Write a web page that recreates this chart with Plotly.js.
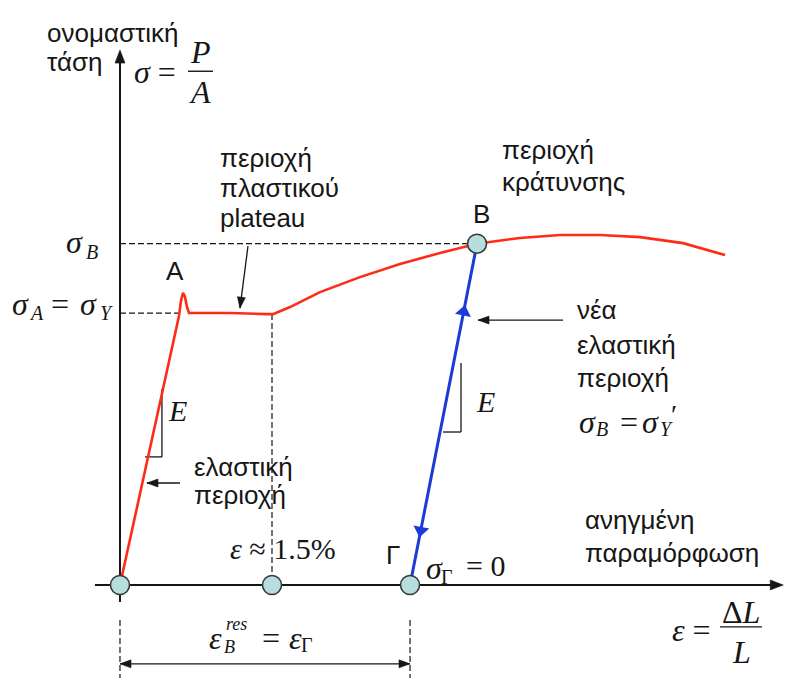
<!DOCTYPE html>
<html>
<head>
<meta charset="utf-8">
<script src="https://cdn.plot.ly/plotly-3.0.1.min.js"></script>
<style>
  html, body { margin: 0; padding: 0; background: #ffffff; }
  #chart { width: 786px; height: 678px; }
</style>
</head>
<body>
<div id="chart"></div>
<script>
// Engineering stress–strain curve of mild steel (strain in %, stress normalised by σY)

// loading curve: elastic line, upper yield point A, plastic plateau, hardening up to and past B
const loadStrain = [0, 0.582, 0.602, 0.622, 0.641, 0.661, 0.681, 1.086, 1.451, 1.510, 1.678, 1.974,
                    2.368, 2.763, 3.158, 3.523, 3.947, 4.342, 4.737, 5.132, 5.556, 5.971];
const loadStress = [0, 0.989, 1.045, 1.074, 1.060, 1.022, 1.0, 1.0, 0.996, 0.996, 1.022, 1.077,
                    1.132, 1.180, 1.221, 1.255, 1.276, 1.287, 1.287, 1.279, 1.257, 1.213];

// unloading from B back to Γ (σ = 0)
const unloadStrain = [3.523, 2.862];
const unloadStress = [1.255, 0];

// marked states: origin, end of plateau (ε ≈ 1.5%), Γ and B
const nodeStrain = [0, 1.5, 2.862, 3.523];
const nodeStress = [0, 0, 0, 1.255];

const sigmaY = 1.0;
const sigmaB = 1.255;
const epsPlateauEnd = 1.5;
const epsGamma = 2.862;
const epsB = 3.523;

const X_RANGE = [-1.184, 6.572];
const Y_RANGE = [-0.342, 2.151];
const W = 786, H = 678;

const RED = '#ff2b17';
const BLUE = '#1a3bd6';
const INK = '#161616';
const SANS = 'Liberation Sans, Arial, sans-serif';
const SERIF = 'Liberation Serif, Times New Roman, serif';

// screen pixels per data unit, for arrowheads and marker angles
const PXS = W / (X_RANGE[1] - X_RANGE[0]);
const PYS = H / (Y_RANGE[1] - Y_RANGE[0]);
const unloadAngle = Math.atan(((epsB - epsGamma) * PXS) / (sigmaB * PYS)) * 180 / Math.PI;

// direction arrows along the unloading / reloading line
const upFrac = 0.80, downFrac = 0.16;
const arrowStrain = [epsGamma + (epsB - epsGamma) * upFrac, epsGamma + (epsB - epsGamma) * downFrac];
const arrowStress = [sigmaB * upFrac, sigmaB * downFrac];

const traces = [
  { x: loadStrain, y: loadStress, mode: 'lines', line: { color: RED, width: 2.6 }, hoverinfo: 'skip' },
  { x: unloadStrain, y: unloadStress, mode: 'lines', line: { color: BLUE, width: 3 }, hoverinfo: 'skip' },
  { x: arrowStrain, y: arrowStress, mode: 'markers', hoverinfo: 'skip',
    marker: { symbol: ['triangle-up', 'triangle-down'], angle: unloadAngle, size: 14, color: BLUE } },
  { x: nodeStrain, y: nodeStress, mode: 'markers', hoverinfo: 'skip',
    marker: { size: 19, color: '#b7dede', line: { color: '#3a3a3a', width: 1.6 } } }
];

function line(x0, y0, x1, y1, extra) {
  return Object.assign({ type: 'line', xref: 'x', yref: 'y', x0, y0, x1, y1, layer: 'below',
    line: { color: INK, width: 1.2 } }, extra || {});
}
const dashed = { line: { color: INK, width: 1.2, dash: '6px,3px' } };
const thin = { line: { color: INK, width: 1.3 } };

// filled arrowhead with its tip at (tx, ty), pointing away from (fx, fy)
function head(tx, ty, fx, fy, len, half) {
  const dx = (tx - fx) * PXS, dy = (ty - fy) * PYS;
  const d = Math.hypot(dx, dy), ux = dx / d, uy = dy / d;
  const bx = -ux * len, by = -uy * len;
  const p = [[0, 0], [bx - uy * half, by + ux * half], [bx + uy * half, by - ux * half]]
    .map(([px, py]) => (tx + px / PXS) + ',' + (ty + py / PYS));
  return { type: 'path', xref: 'x', yref: 'y', path: 'M' + p.join('L') + 'Z',
    fillcolor: INK, line: { color: INK, width: 0.6 }, layer: 'above' };
}
// pointer arrow from (fx, fy) to (tx, ty)
function pointer(tx, ty, fx, fy, width, len, half, both) {
  const out = [line(fx, fy, tx, ty, { layer: 'above', line: { color: INK, width: width } }),
               head(tx, ty, fx, fy, len, half)];
  if (both) out.push(head(fx, fy, tx, ty, len, half));
  return out;
}

const shapes = [
  // axes
  line(0, -0.0625, 0, 1.95, { line: { color: INK, width: 2 } }),
  line(-0.247, 0, 6.50, 0, { line: { color: INK, width: 2 } }),
  head(0, 1.967, 0, 1.8, 13, 5),
  head(6.545, 0, 6.3, 0, 13, 5),
  // reference levels
  line(0, sigmaB, epsB, sigmaB, dashed),
  line(0, sigmaY, 0.575, sigmaY, dashed),
  line(epsPlateauEnd, 0.996, epsPlateauEnd, 0, dashed),
  // extension lines for the residual strain dimension
  line(0, -0.129, 0, -0.342, dashed),
  line(epsGamma, -0.129, epsGamma, -0.342, dashed),
  // slope triangles (E)
  line(0.414, 0.471, 0.414, 0.721, thin),
  line(0.247, 0.471, 0.414, 0.471, thin),
  line(3.365, 0.5625, 3.365, 0.816, thin),
  line(3.188, 0.5625, 3.365, 0.5625, thin),
  // fraction bars
  line(0.671, 1.889, 0.918, 1.889, { layer: 'above', line: { color: INK, width: 1.4 } }),
  line(5.921, -0.154, 6.335, -0.154, { layer: 'above', line: { color: INK, width: 1.4 } }),
  // pointers to the plateau, the elastic region and the new elastic region
  ...pointer(1.184, 1.018, 1.263, 1.246, 1.3, 11, 4),
  ...pointer(0.266, 0.375, 0.592, 0.375, 1.3, 11, 4),
  ...pointer(3.533, 0.974, 4.372, 0.974, 1.3, 11, 4),
  // residual strain dimension line
  ...pointer(epsGamma, -0.290, 0, -0.290, 1.4, 11, 4, true)
];

function sans(x, y, text, anchor) {
  return { x, y, text, showarrow: false, xanchor: anchor || 'left', yanchor: 'middle',
    font: { family: SANS, size: 26, color: INK } };
}
function serif(x, y, text, anchor, size) {
  return { x, y, text, showarrow: false, xanchor: anchor || 'left', yanchor: 'middle',
    font: { family: SERIF, size: size || 32, color: INK } };
}
// single math glyph centred at (x, y); small = subscript size
function g(x, y, text, small) {
  return serif(x, y, text, 'center', small ? 20 : 32);
}

const annotations = [
  // axis titles
  sans(-0.740, 2.029, 'ονομαστική'),
  sans(-0.740, 1.923, 'τάση'),
  serif(0.118, 1.886, '<i>σ</i> ='),
  g(0.794, 1.960, '<i>P</i>'),
  g(0.794, 1.812, '<i>A</i>'),
  sans(4.569, 0.239, 'ανηγμένη'),
  sans(4.569, 0.118, 'παραμόρφωση'),
  serif(5.430, -0.165, '<i>ε</i> ='),
  g(6.128, -0.100, 'Δ<i>L</i>'),
  g(6.128, -0.246, '<i>L</i>'),

  // σB
  g(-0.444, 1.262, '<i>σ</i>'), g(-0.276, 1.226, '<i>B</i>', true),
  // σA = σY
  g(-0.977, 1.034, '<i>σ</i>'), g(-0.819, 1.0, '<i>A</i>', true),
  g(-0.592, 1.034, '='),
  g(-0.306, 1.034, '<i>σ</i>'), g(-0.138, 1.0, '<i>Y</i>', true),

  // regions and points
  sans(0.967, 1.570, 'περιοχή'),
  sans(0.967, 1.460, 'πλαστικού'),
  sans(0.967, 1.349, 'plateau'),
  sans(3.750, 1.599, 'περιοχή'),
  sans(3.750, 1.482, 'κράτυνσης'),
  sans(3.572, 1.364, 'B', 'center'),
  sans(0.543, 1.154, 'A', 'center'),
  sans(0.711, 0.434, 'ελαστική'),
  sans(0.711, 0.331, 'περιοχή'),
  sans(4.490, 1.011, 'νέα'),
  sans(4.490, 0.882, 'ελαστική'),
  sans(4.490, 0.761, 'περιοχή'),

  // σB = σ'Y
  g(4.609, 0.600, '<i>σ</i>'), g(4.757, 0.572, '<i>B</i>', true),
  g(5.023, 0.600, '='),
  g(5.230, 0.600, '<i>σ</i>'), g(5.388, 0.572, '<i>Y</i>', true), serif(5.470, 0.628, '′', 'center', 28),

  serif(0.572, 0.643, '<i>E</i>', 'center', 30),
  serif(3.602, 0.673, '<i>E</i>', 'center', 30),
  serif(1.066, 0.136, '<i>ε</i> ≈ 1.5%', 'left', 30),
  sans(2.694, 0.110, 'Γ', 'center'),

  // σΓ = 0
  g(3.099, 0.063, '<i>σ</i>'), g(3.227, 0.030, 'Γ', true),
  serif(3.602, 0.070, '= 0', 'center', 30),

  // εB^res = εΓ
  g(0.938, -0.195, '<i>ε</i>'),
  serif(1.076, -0.228, '<i>B</i>', 'center', 18),
  serif(1.145, -0.143, '<i>res</i>', 'center', 18),
  g(1.490, -0.195, '='),
  g(1.727, -0.195, '<i>ε</i>'), g(1.845, -0.221, 'Γ', true)
];

const layout = {
  width: W, height: H,
  margin: { l: 0, r: 0, t: 0, b: 0 },
  paper_bgcolor: '#ffffff', plot_bgcolor: '#ffffff',
  showlegend: false,
  xaxis: { range: X_RANGE, visible: false, fixedrange: true },
  yaxis: { range: Y_RANGE, visible: false, fixedrange: true },
  shapes, annotations
};

Plotly.newPlot('chart', traces, layout, { staticPlot: true, displayModeBar: false });
</script>
</body>
</html>
